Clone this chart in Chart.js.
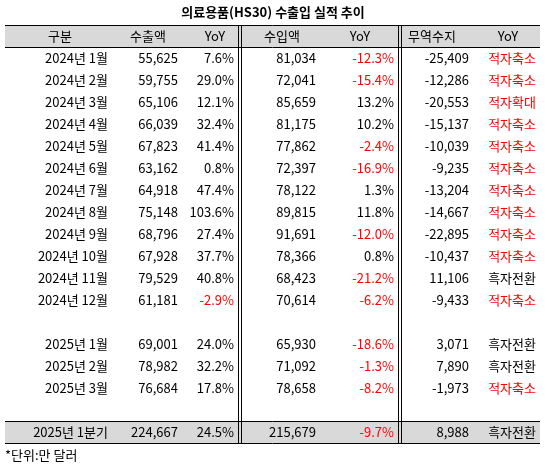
<!DOCTYPE html><html><head><meta charset="utf-8">
<script src="https://cdn.jsdelivr.net/npm/chart.js@4"></script>
<style>body{margin:0;background:#fff}#w{width:547px;height:465px}</style></head><body>
<div id="w"><canvas id="c"></canvas></div>
<script>
const title = "의료용품(HS30) 수출입 실적 추이";
const headers = ["구분","수출액","YoY","수입액","YoY","무역수지","YoY"];
const labels = ["2024년 1월","2024년 2월","2024년 3월","2024년 4월","2024년 5월","2024년 6월","2024년 7월","2024년 8월","2024년 9월","2024년 10월","2024년 11월","2024년 12월","","2025년 1월","2025년 2월","2025년 3월","","2025년 1분기"];
const exportsV = [55625,59755,65106,66039,67823,63162,64918,75148,68796,67928,79529,61181,null,69001,78982,76684,null,224667];
const exportYoY = [7.6,29.0,12.1,32.4,41.4,0.8,47.4,103.6,27.4,37.7,40.8,-2.9,null,24.0,32.2,17.8,null,24.5];
const importsV = [81034,72041,85659,81175,77862,72397,78122,89815,91691,78366,68423,70614,null,65930,71092,78658,null,215679];
const importYoY = [-12.3,-15.4,13.2,10.2,-2.4,-16.9,1.3,11.8,-12.0,0.8,-21.2,-6.2,null,-18.6,-1.3,-8.2,null,-9.7];
const balance = [-25409,-12286,-20553,-15137,-10039,-9235,-13204,-14667,-22895,-10437,11106,-9433,null,3071,7890,-1973,null,8988];
const status = ["적자축소","적자축소","적자확대","적자축소","적자축소","적자축소","적자축소","적자축소","적자축소","적자축소","흑자전환","적자축소","","흑자전환","흑자전환","적자축소","","흑자전환"];
const footnote = "*단위:만 달러";

const RED="#ff0000", F="13px 'Noto Sans CJK KR','Noto Sans',sans-serif";
const fmt=v=>v.toLocaleString('en-US');
const pct=v=>v.toFixed(1)+'%';
const table={id:'table',afterDraw(ch){
 const c=ch.ctx,X=v=>ch.scales.x.getPixelForValue(v),Y=v=>ch.scales.y.getPixelForValue(v);
 const rowY=k=>36+k*22;
 c.save();c.textBaseline='middle';
 c.font="bold 13px 'Noto Sans CJK KR',sans-serif";c.fillStyle='#000';c.textAlign='center';
 c.fillText(title,X(273),Y(12));
 // header bg
 c.fillStyle='#d9d9d9';c.fillRect(X(5),Y(25),X(540)-X(5),22);
 c.fillRect(X(5),Y(rowY(18)-11),X(540)-X(5),22);
 c.strokeStyle='#000';c.lineWidth=1;
 const hl=y=>{c.beginPath();c.moveTo(X(5),Y(y)+.5);c.lineTo(X(540),Y(y)+.5);c.stroke();};
 hl(25);hl(47);hl(rowY(18)-11);hl(rowY(18)+11);
 const vl=x=>{c.beginPath();c.moveTo(X(x)+.5,Y(25));c.lineTo(X(x)+.5,Y(rowY(18)+11));c.stroke();};
 vl(238);vl(241);vl(398);vl(401);
 c.font=F;c.fillStyle='#000';
 const hx=[60,148,215,282,360,432,508];
 headers.forEach((h,i)=>c.fillText(h,X(hx[i]),Y(36)));
 c.textAlign='right';
 labels.forEach((l,i)=>{
  if(!l)return;const y=Y(rowY(i+1));
  const put=(t,x,red)=>{c.fillStyle=red?RED:'#000';c.fillText(t,X(x),y);};
  put(l,108);put(fmt(exportsV[i]),178);put(pct(exportYoY[i]),234,exportYoY[i]<0);
  put(fmt(importsV[i]),316);put(pct(importYoY[i]),394,importYoY[i]<0);
  put(fmt(balance[i]),469);put(status[i],536,status[i].startsWith('적자'));
 });
 c.textAlign='left';c.fillStyle='#000';c.fillText(footnote,X(5),Y(455));
 c.restore();}};
new Chart(document.getElementById('c'),{type:'scatter',data:{datasets:[{data:[]}]},
 options:{animation:false,responsive:true,maintainAspectRatio:false,layout:{padding:0},
  plugins:{legend:{display:false},tooltip:{enabled:false}},
  scales:{x:{type:'linear',min:0,max:547,display:false},y:{type:'linear',min:0,max:465,reverse:true,display:false}}},
 plugins:[table]});
</script></body></html>
